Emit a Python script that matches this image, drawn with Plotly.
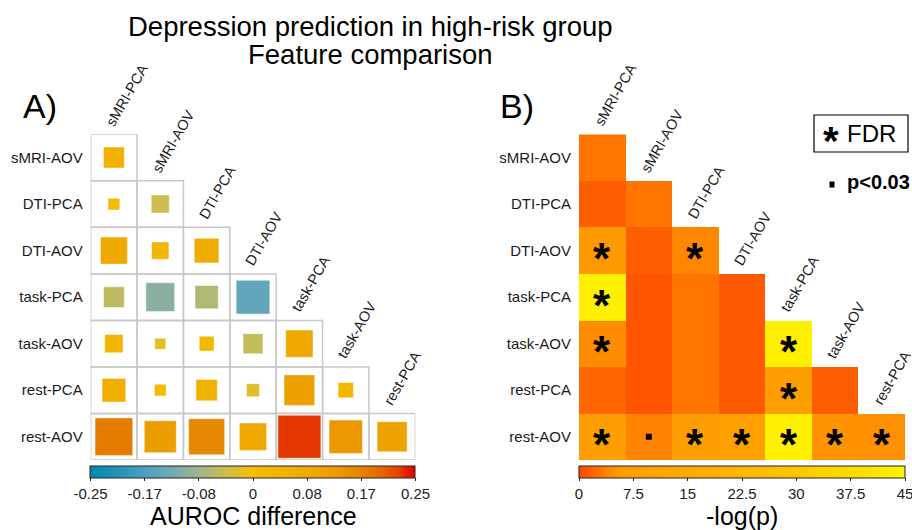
import numpy as np
import plotly.graph_objects as go

# ---------------- data ----------------
rows = ["sMRI-AOV", "DTI-PCA", "DTI-AOV", "task-PCA", "task-AOV", "rest-PCA", "rest-AOV"]
cols = ["sMRI-PCA", "sMRI-AOV", "DTI-PCA", "DTI-AOV", "task-PCA", "task-AOV", "rest-PCA"]

# Panel A: AUROC difference (lower triangle, row by row)
auroc_diff = [
    [0.054],
    [0.017, -0.040],
    [0.090, 0.037, 0.075],
    [-0.053, -0.102, -0.067, -0.140],
    [0.041, -0.015, 0.027, -0.049, 0.092],
    [0.069, 0.017, 0.056, -0.021, 0.116, 0.029],
    [0.175, 0.126, 0.160, 0.092, 0.228, 0.137, 0.111],
]

# Panel B: -log(p)
neglogp = [
    [3.0],
    [1.5, 3.0],
    [5.5, 1.5, 4.0],
    [44.0, 0.8, 3.0, 1.2],
    [4.4, 0.8, 3.0, 1.2, 44.0],
    [2.0, 0.8, 3.0, 1.2, 7.0, 1.5],
    [7.0, 3.7, 7.0, 8.0, 44.0, 5.0, 4.8],
]

# significance: 2 = FDR (*), 1 = p<0.03 (small square), 0 = none
signif = [
    [0],
    [0, 0],
    [2, 0, 2],
    [2, 0, 0, 0],
    [2, 0, 0, 0, 2],
    [0, 0, 0, 0, 2, 0],
    [2, 1, 2, 2, 2, 2, 2],
]

a_ticks = [-0.25, -0.1667, -0.0833, 0, 0.0833, 0.1667, 0.25]
a_ticktext = ["-0.25", "-0.17", "-0.08", "0", "0.08", "0.17", "0.25"]
b_ticks = [0, 7.5, 15, 22.5, 30, 37.5, 45]
b_ticktext = ["0", "7.5", "15", "22.5", "30", "37.5", "45"]

# ---------------- layout geometry (pixels) ----------------
W, H = 912, 530
LX0, LX1 = 90.7, 415.3
RX0, RX1 = 579.0, 905.0
GY0, GY1 = 134.3, 460.0
n = len(cols)
FONT = "Liberation Sans, Arial, sans-serif"

def px(x):
    return x / W

def py(y):
    return 1 - y / H

scale_a = [
    [0.0, "#0088AE"], [0.1, "#2A94B8"], [0.17, "#4CA0C0"], [0.25, "#70AAB8"],
    [0.33, "#9EB48E"], [0.42, "#CDBD4E"], [0.5, "#F5BE00"], [0.67, "#EFAA00"],
    [0.75, "#EC9E00"], [0.83, "#E68600"], [0.9, "#E46400"], [0.95, "#E54000"],
    [1.0, "#E00000"],
]
scale_b = [
    [0.0, "#FF4800"], [0.03, "#FF5C00"], [0.06, "#FF7000"], [0.09, "#FF8800"],
    [0.127, "#FF9C00"], [0.2, "#FFA200"], [0.4, "#FFAE00"], [0.6, "#FFC000"],
    [0.8, "#FFD800"], [1.0, "#FFF200"],
]

fig = go.Figure()

# ---------- Panel A: squares ----------
ax, ay, av, asz = [], [], [], []
for r, rowvals in enumerate(auroc_diff):
    for c, v in enumerate(rowvals):
        ax.append(c)
        ay.append(r)
        av.append(v)
        asz.append(45 * np.sqrt(abs(v) / 0.25))

fig.add_trace(go.Scatter(
    x=ax, y=ay, mode="markers", xaxis="x", yaxis="y",
    marker=dict(
        symbol="square", size=asz, color=av, cmin=-0.25, cmax=0.25, opacity=1,
        colorscale=scale_a, line=dict(width=1, color="rgba(255,255,255,0.45)"),
        colorbar=dict(
            orientation="h", x=px((LX0 + LX1) / 2), xanchor="center",
            y=py(466), yanchor="top", len=LX1 - LX0, lenmode="pixels",
            thickness=11.5, thicknessmode="pixels", xpad=0, ypad=0,
            outlinewidth=1, outlinecolor="#222", ticks="outside", ticklen=3,
            tickcolor="#222", tickvals=a_ticks, ticktext=a_ticktext,
            ticklabeloverflow="allow",
            tickfont=dict(family=FONT, size=15, color="#222"),
        ),
    ),
    hoverinfo="skip", showlegend=False,
))

# grid boxes (panel A)
shapes = []
for r in range(len(rows)):
    for c in range(r + 1):
        shapes.append(dict(type="rect", xref="x", yref="y",
                           x0=c - 0.5, x1=c + 0.5, y0=r - 0.5, y1=r + 0.5,
                           line=dict(color="#C8C8C8", width=1.5), layer="below"))

# ---------- Panel B: heatmap ----------
z = [[(neglogp[r][c] if c <= r else None) for c in range(n)] for r in range(len(rows))]
fig.add_trace(go.Heatmap(
    z=z, x=list(range(n)), y=list(range(len(rows))), xaxis="x2", yaxis="y2",
    zmin=0, zmax=45, colorscale=scale_b, hoverinfo="skip",
    colorbar=dict(
        orientation="h", x=px((RX0 + RX1) / 2), xanchor="center",
        y=py(466), yanchor="top", len=RX1 - RX0, lenmode="pixels",
        thickness=11.5, thicknessmode="pixels", xpad=0, ypad=0,
        outlinewidth=1, outlinecolor="#222", ticks="outside", ticklen=3,
        tickcolor="#222", tickvals=b_ticks, ticktext=b_ticktext,
        ticklabeloverflow="allow",
        tickfont=dict(family=FONT, size=15, color="#222"),
    ),
))

annotations = []
# significance marks
sq_x, sq_y = [], []
for r, rowvals in enumerate(signif):
    for c, s in enumerate(rowvals):
        if s == 2:
            annotations.append(dict(x=c, y=r, xref="x2", yref="y2", text="<b>*</b>",
                                    showarrow=False, xanchor="center", yanchor="middle",
                                    yshift=-8,
                                    font=dict(family=FONT, size=44, color="black")))
        elif s == 1:
            sq_x.append(c)
            sq_y.append(r)
fig.add_trace(go.Scatter(
    x=sq_x, y=sq_y, mode="markers", xaxis="x2", yaxis="y2",
    marker=dict(symbol="square", size=6, color="black", opacity=1),
    hoverinfo="skip", showlegend=False,
))

# column labels (diagonal) for both panels
for xr, yr in (("x", "y"), ("x2", "y2")):
    for c, name in enumerate(cols):
        annotations.append(dict(x=c, y=c - 0.5, xref=xr, yref=yr, text=name,
                                textangle=-60, xanchor="left", yanchor="bottom",
                                xshift=-14, yshift=3, showarrow=False,
                                font=dict(family=FONT, size=14.5, color="#1a1a1a")))

def pa(x, y, text, size, xanchor="center", yanchor="middle", bold=False, yshift=0):
    return dict(x=px(x), y=py(y), xref="paper", yref="paper", showarrow=False,
                xanchor=xanchor, yanchor=yanchor, yshift=yshift,
                text=f"<b>{text}</b>" if bold else text,
                font=dict(family=FONT, size=size, color="black"))

annotations += [
    pa(370, 27, "Depression prediction in high-risk group", 27.5),
    pa(370, 55, "Feature comparison", 27.5),
    pa(21, 106, "A)", 34, xanchor="left"),
    pa(498, 106, "B)", 34, xanchor="left"),
    pa((LX0 + LX1) / 2, 516, "AUROC difference", 25),
    pa((RX0 + RX1) / 2, 516, "-log(p)", 25),
    # legend
    pa(831, 134, "*", 40, bold=True, yshift=-7),
    pa(845, 134, "FDR", 24, xanchor="left"),
    pa(845, 182, "p<0.03", 20, xanchor="left", bold=True),
]
shapes += [
    dict(type="rect", xref="paper", yref="paper", x0=px(814), x1=px(908),
         y0=py(152), y1=py(115), line=dict(color="black", width=1.2)),
    dict(type="rect", xref="paper", yref="paper", x0=px(829.5), x1=px(834.5),
         y0=py(187.5), y1=py(181.5), fillcolor="black", line=dict(width=0)),
]

yaxis_common = dict(range=[len(rows) - 0.5, -0.5], tickmode="array",
                    tickvals=list(range(len(rows))), ticktext=rows,
                    tickfont=dict(family=FONT, size=15, color="#1a1a1a"),
                    showgrid=False, zeroline=False, showline=False, ticks="",
                    ticklabelstandoff=7, domain=[py(GY1), py(GY0)])
xaxis_common = dict(range=[-0.5, n - 0.5], visible=False, showgrid=False, zeroline=False)

fig.update_layout(
    width=W, height=H, margin=dict(l=0, r=0, t=0, b=0),
    paper_bgcolor="white", plot_bgcolor="white", showlegend=False,
    xaxis=dict(xaxis_common, domain=[px(LX0), px(LX1)]),
    yaxis=dict(yaxis_common, anchor="x"),
    xaxis2=dict(xaxis_common, domain=[px(RX0), px(RX1)], anchor="y2"),
    yaxis2=dict(yaxis_common, anchor="x2"),
    annotations=annotations, shapes=shapes,
)

fig.write_html("out.html", config={"displayModeBar": False},
               post_script="document.body.style.margin='0';document.body.style.overflow='hidden';")
